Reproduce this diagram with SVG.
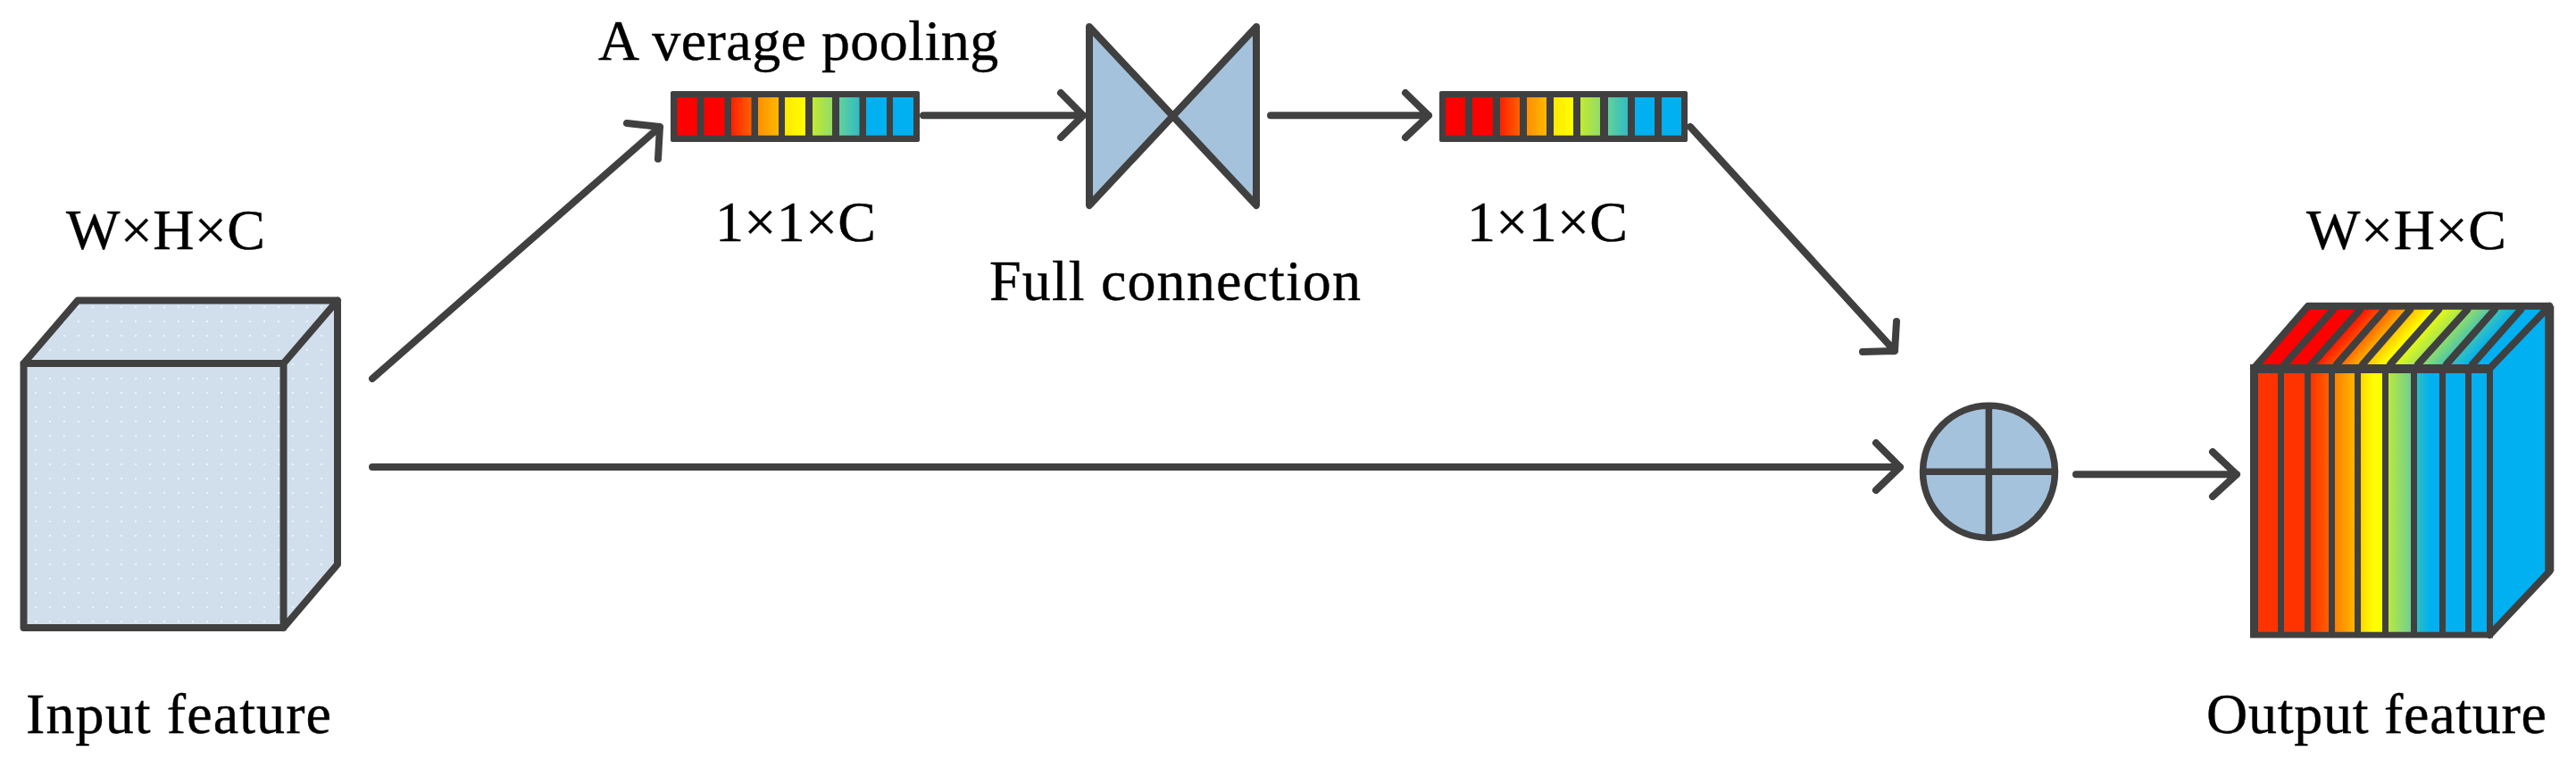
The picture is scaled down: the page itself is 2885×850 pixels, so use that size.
<svg xmlns="http://www.w3.org/2000/svg" width="2885" height="850" viewBox="0 0 2885 850">
<style>
.ln{fill:none;stroke:#404040;stroke-width:8;stroke-linecap:round;stroke-linejoin:round}
.blue{fill:#a5c2dc}
.dark{fill:#404040}
.cy{fill:#00b0f0}
text{font-family:"Liberation Serif","Times New Roman",serif;font-size:64px;fill:#000;stroke:#000;stroke-width:.4}
</style>
<defs>
<pattern id="dots" width="16" height="16" patternUnits="userSpaceOnUse"><rect width="16" height="16" fill="#d1dfed"/><rect x="7" y="7" width="2" height="2" fill="#eef4fa"/></pattern>
<linearGradient id="b3"><stop offset="0" stop-color="#ff2000"/><stop offset="1" stop-color="#ff6000"/></linearGradient>
<linearGradient id="b4"><stop offset="0" stop-color="#ff9000"/><stop offset="1" stop-color="#ffb800"/></linearGradient>
<linearGradient id="b5"><stop offset="0" stop-color="#ffe800"/><stop offset="1" stop-color="#ffff00"/></linearGradient>
<linearGradient id="b6"><stop offset="0" stop-color="#c2ea30"/><stop offset="1" stop-color="#92dc68"/></linearGradient>
<linearGradient id="b7"><stop offset="0" stop-color="#62d09c"/><stop offset="1" stop-color="#30bcc4"/></linearGradient>
<linearGradient id="f3"><stop offset="0" stop-color="#ff3300"/><stop offset="1" stop-color="#ff6000"/></linearGradient>
<linearGradient id="f4"><stop offset="0" stop-color="#ff8000"/><stop offset="1" stop-color="#ffb400"/></linearGradient>
<linearGradient id="f5"><stop offset="0" stop-color="#ffd800"/><stop offset="0.6" stop-color="#ffff00"/><stop offset="1" stop-color="#ffff00"/></linearGradient>
<linearGradient id="f6"><stop offset="0" stop-color="#b8e840"/><stop offset="1" stop-color="#70d090"/></linearGradient>
<linearGradient id="f7"><stop offset="0" stop-color="#30bcc0"/><stop offset="0.6" stop-color="#00b0f0"/><stop offset="1" stop-color="#00b0f0"/></linearGradient>
<linearGradient id="top" gradientUnits="userSpaceOnUse" x1="2533" y1="408" x2="2675.7" y2="536.6">
<stop offset="0" stop-color="#ff0000"/><stop offset="0.2" stop-color="#ff0000"/><stop offset="0.31" stop-color="#ff5000"/><stop offset="0.42" stop-color="#ffb000"/><stop offset="0.53" stop-color="#ffff00"/><stop offset="0.65" stop-color="#b0e848"/><stop offset="0.78" stop-color="#50c8a8"/><stop offset="0.9" stop-color="#00b0f0"/><stop offset="1" stop-color="#00b0f0"/>
</linearGradient>
</defs>
<rect width="2885" height="850" fill="#fff"/>

<g id="input-cube">
<path d="M26.5,407L87,336.5H378V632L317.5,703H26.5Z" fill="url(#dots)"/>
<path class="ln" d="M26.5,407H317.5V703H26.5ZM26.5,407L87,336.5H378V632L317.5,703M317.5,407L378,336.5"/>
<text x="74" y="279" textLength="223">W×H×C</text>
<text x="29" y="821" textLength="342">Input feature</text>
</g>

<g id="average-pooling">
<rect x="751" y="102" width="279" height="57" class="dark" rx="2"/>
<rect x="758.4" y="109" width="22.4" height="42.7" fill="#ff0000"/>
<rect x="788.5" y="109" width="22.9" height="42.7" fill="#ff0000"/>
<rect x="819" y="109" width="22.5" height="42.7" fill="url(#b3)"/>
<rect x="849" y="109" width="23" height="42.7" fill="url(#b4)"/>
<rect x="879" y="109" width="23" height="42.7" fill="url(#b5)"/>
<rect x="910" y="109" width="22" height="42.7" fill="url(#b6)"/>
<rect x="940" y="109" width="22.5" height="42.7" fill="url(#b7)"/>
<rect x="970" y="109" width="23" height="42.7" class="cy"/>
<rect x="1000" y="109" width="23" height="42.7" class="cy"/>
<text x="670" y="67">A<tspan dx="14" letter-spacing=".45">verage pooling</tspan></text>
<text x="801" y="270" textLength="180">1×1×C</text>
</g>

<g id="full-connection">
<path class="ln" style="fill:#a5c2dc" d="M1220,30L1407,230V30L1220,230Z"/>
<text x="1108" y="336" textLength="416">Full connection</text>
</g>

<g id="feature-vector">
<rect x="1612" y="102" width="278" height="57" class="dark" rx="2"/>
<rect x="1618.8" y="109" width="22.2" height="42.7" fill="#ff0000"/>
<rect x="1649" y="109" width="23" height="42.7" fill="#ff0000"/>
<rect x="1680" y="109" width="22" height="42.7" fill="url(#b3)"/>
<rect x="1710" y="109" width="22" height="42.7" fill="url(#b4)"/>
<rect x="1740" y="109" width="22" height="42.7" fill="url(#b5)"/>
<rect x="1770" y="109" width="22" height="42.7" fill="url(#b6)"/>
<rect x="1801" y="109" width="22" height="42.7" fill="url(#b7)"/>
<rect x="1831" y="109" width="22" height="42.7" class="cy"/>
<rect x="1861" y="109" width="22" height="42.7" class="cy"/>
<text x="1643" y="270" textLength="180">1×1×C</text>
</g>

<g id="add-node">
<circle cx="2227.5" cy="528.3" r="74" class="blue" stroke="#404040" stroke-width="7.5"/>
<path d="M2227.4,454V602.6M2153.5,528.3H2301.5" fill="none" stroke="#404040" stroke-width="7.5"/>
</g>

<g id="output-cube">
<path class="cy" d="M2788,412.7L2855.3,342.7V640L2788,711Z"/>
<path d="M2524.3,412.7L2585,342.7H2855.3L2788.3,412.7Z" fill="url(#top)"/>
<path class="dark" d="M2520,408H2792V714.5H2520Z"/>
<rect x="2529" y="418" width="22" height="289.7" fill="#ff3300"/>
<rect x="2558" y="418" width="23" height="289.7" fill="#ff3300"/>
<rect x="2588" y="418" width="20" height="289.7" fill="url(#f3)"/>
<rect x="2615" y="418" width="22" height="289.7" fill="url(#f4)"/>
<rect x="2644" y="418" width="24" height="289.7" fill="url(#f5)"/>
<rect x="2675" y="418" width="25" height="289.7" fill="url(#f6)"/>
<rect x="2707" y="418" width="25" height="289.7" fill="url(#f7)"/>
<rect x="2739" y="418" width="22" height="289.7" class="cy"/>
<rect x="2768" y="418" width="17" height="289.7" class="cy"/>
<path class="ln" d="M2558.7,408L2613.3,346.7M2589,408L2643.3,346.7M2617,408L2670.7,346.7M2646,408L2699.3,346.7M2677,408L2731.3,346.7M2708,408L2763.3,346.7M2740,408L2794,346.7M2769,408L2823.3,346.7"/>
<path class="ln" d="M2524,412.7L2585,342.7H2855.3M2788.3,412.7L2855.3,342.7M2788.3,711L2855.3,640"/>
<path d="M2855.3,342.7V640" fill="none" stroke="#404040" stroke-width="10"/>
<text x="2583" y="279" textLength="224">W×H×C</text>
<text x="2471" y="821" textLength="381">Output feature</text>
</g>

<g id="connectors">
<path class="ln" d="M417,424L739,142M702,138L739,142L737,178"/>
<path class="ln" d="M1034,129.3H1213M1188,104L1213,129.3L1188,154"/>
<path class="ln" d="M1423,129.3H1600M1574,104L1600,129.3L1574,154"/>
<path class="ln" d="M1893,142L2122,393M2124,360L2122,393L2086,394"/>
<path class="ln" d="M417,523H2128M2101,496L2128,523L2101,549"/>
<path class="ln" d="M2325,531.3H2505M2478,506L2505,531.3L2478,556"/>
</g>
</svg>
